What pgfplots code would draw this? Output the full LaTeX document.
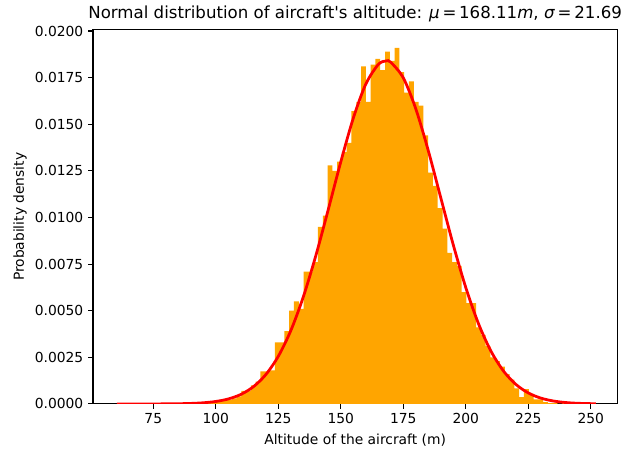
\documentclass[border=0pt]{standalone}
\usepackage{fontspec}
\setmainfont{DejaVu Sans}[Ligatures=TeXOff]
\usepackage{pgfplots}
\pgfplotsset{compat=1.18}
\definecolor{mplorange}{HTML}{FFA500}
\begin{document}
\begin{tikzpicture}
\begin{axis}[
  scale only axis,
  width=377.5bp, height=269.6bp,
  xmin=50.9, xmax=260.6, ymin=0, ymax=0.02008,
  axis line style={line width=0.8pt, black},
  tick style={line width=0.8pt, black},
  major tick length=3.5pt,
  tick align=outside,
  xtick pos=bottom, ytick pos=left,
  xtick={75,100,125,150,175,200,225,250},
  ytick={0,0.0025,0.005,0.0075,0.01,0.0125,0.015,0.0175,0.02},
  scaled y ticks=false,
  /pgf/number format/assume math mode=true,
  yticklabel style={/pgf/number format/.cd, fixed, fixed zerofill, precision=4},
  ticklabel style={font=\fontsize{10}{12}\selectfont},
  title={Normal distribution of aircraft's altitude: \textit{μ}\,=\,168.11\textit{m}, \textit{σ}\,=\,21.69},
  title style={font=\fontsize{12}{14}\selectfont, at={(axis description cs:0.5,1.0192)}, anchor=center},
  xlabel={Altitude of the aircraft (m)},
  ylabel={Probability density},
  xlabel style={font=\fontsize{10}{12}\selectfont, at={(axis description cs:0.5,-0.0961)}, anchor=center},
  ylabel style={font=\fontsize{10}{12}\selectfont, at={(axis description cs:-0.1393,0.5)}, anchor=center},
]
\addplot[const plot, fill=mplorange, draw=none] coordinates {
(60.40,0) (62.32,0) (64.23,0) (66.15,0) (68.06,0) (69.98,0) (71.90,0) (73.81,0) (75.73,0) (77.64,0)
(79.56,0) (81.48,0) (83.39,0) (85.31,0) (87.22,0) (89.14,0.00005) (91.06,0) (92.97,0) (94.89,0) (96.80,0.00005)
(98.72,0.0001) (100.64,0.0001) (102.55,0.00015) (104.47,0.0002) (106.38,0.0003) (108.30,0.0004) (110.22,0.0007) (112.13,0.0007) (114.05,0.0010) (115.96,0.0012)
(117.88,0.00175) (119.80,0.00175) (121.71,0.0018) (123.63,0.0033) (125.54,0.0033) (127.46,0.0039) (129.38,0.0050) (131.29,0.0055) (133.21,0.0051) (135.12,0.0071)
(137.04,0.0071) (138.96,0.0076) (140.87,0.0095) (142.79,0.0101) (144.70,0.0128) (146.62,0.0125) (148.54,0.0130) (150.45,0.0135) (152.37,0.0140) (154.28,0.0157)
(156.20,0.0162) (158.12,0.0181) (160.03,0.0162) (161.95,0.0182) (163.86,0.0185) (165.78,0.0179) (167.70,0.0189) (169.61,0.0184) (171.53,0.0191) (173.44,0.0178)
(175.36,0.0167) (177.28,0.0173) (179.19,0.0162) (181.11,0.0160) (183.02,0.0144) (184.94,0.0124) (186.86,0.0117) (188.77,0.0105) (190.69,0.0094) (192.60,0.0081)
(194.52,0.0076) (196.44,0.0074) (198.35,0.0060) (200.27,0.0054) (202.18,0.0054) (204.10,0.0041) (206.02,0.0037) (207.93,0.0031) (209.85,0.0025) (211.76,0.0023)
(213.68,0.0020) (215.60,0.0016) (217.51,0.0013) (219.43,0.00084) (221.34,0.00036) (223.26,0.0008) (225.18,0.00054) (227.09,0.00025) (229.01,0.00025) (230.92,0.0001)
(232.84,0.00005) (234.76,0.00005) (236.67,0) (238.59,0.00005) (240.50,0) (242.42,0) (244.34,0) (246.25,0) (248.17,0) (250.08,0)
(252.00,0)
} \closedcycle;
\addplot[smooth, red, line width=2pt] coordinates {
(60.4,0.00000008) (65,0.00000023) (70,0.00000066) (75,0.0000018) (80,0.0000048) (85,0.0000119)
(90,0.0000281) (95,0.0000628) (100,0.0001328) (105,0.0002668) (110,0.000508) (115,0.000918)
(120,0.001571) (125,0.002552) (130,0.003928) (135,0.005737) (140,0.007942) (145,0.010427)
(150,0.012980) (155,0.015322) (160,0.017151) (165,0.018205) (168.11,0.018393) (170,0.018323)
(175,0.017488) (180,0.015827) (185,0.013582) (190,0.011053) (195,0.008529) (200,0.006241)
(205,0.004330) (210,0.002849) (215,0.001778) (220,0.0010516) (225,0.000590) (230,0.0003139)
(235,0.0001582) (240,0.0000758) (245,0.0000344) (252,0.0000104)
};
\end{axis}
\pgfresetboundingbox
\path ([xshift=-66.96bp,yshift=-33.84bp]current axis.south west) rectangle ([xshift=16.34bp,yshift=21.24bp]current axis.north east);
\end{tikzpicture}
\end{document}
